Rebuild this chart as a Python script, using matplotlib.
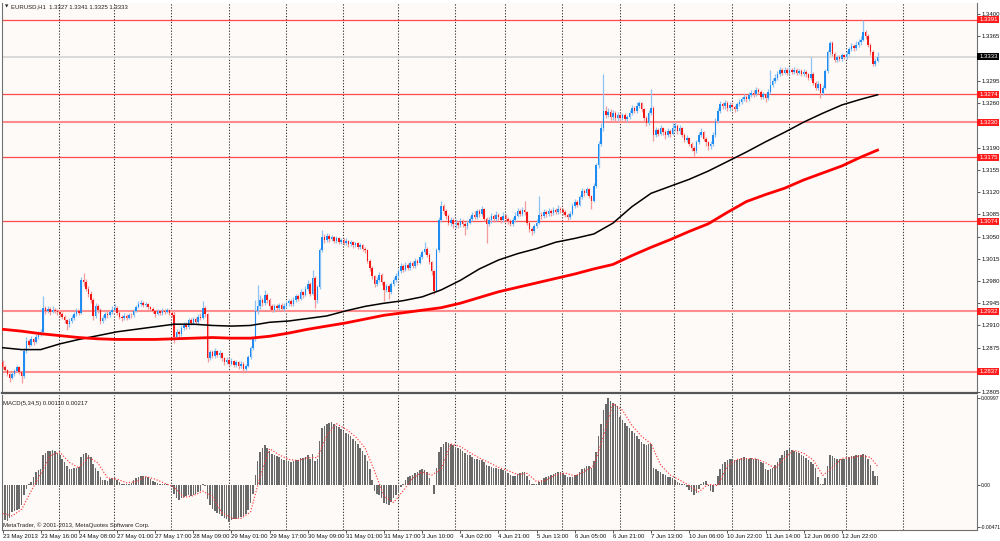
import numpy as np
import matplotlib.pyplot as plt
from matplotlib.transforms import blended_transform_factory
from matplotlib.patches import Rectangle

plt.rcParams['font.family'] = ['Liberation Sans', 'DejaVu Sans']

# EURUSD H1, prices in pips above 1.2800; open of each bar = previous close
first_open = 52
close_pips = [
    45, 40, 33, 27, 33, 38, 44, 36, 30, 70, 85, 80, 88, 84, 92, 96, 100, 137, 132, 136, 131, 135, 133, 131,
    128, 124, 118, 113, 117, 122, 128, 133, 130, 182, 178, 168, 160, 150, 125, 140, 134, 117, 122, 128, 126, 131, 135,
    138, 130, 124, 121, 125, 122, 127, 126, 133, 139, 144, 146, 142, 144, 139, 136, 132, 128, 133, 129, 133, 131, 134, 130,
    126, 92, 100, 96, 106, 112, 108, 118, 114, 120, 116, 124, 122, 137, 128, 58, 68, 62, 70, 63, 67, 58, 52, 56,
    50, 54, 48, 52, 46, 50, 42, 46, 60, 74, 88, 132, 140, 150, 145, 158, 150, 140, 134, 140, 137, 142, 136, 140,
    145, 148, 143, 150, 156, 152, 162, 158, 168, 176, 160, 185, 150, 170, 228, 250, 245, 251, 246, 249, 243, 247, 241, 244,
    240, 243, 238, 241, 236, 239, 234, 236, 231, 228, 212, 200, 188, 176, 182, 190, 178, 166, 172, 163, 175, 182, 188,
    195, 203, 198, 205, 201, 208, 204, 212, 209, 218, 225, 230, 221, 210, 195, 165, 228, 276, 298, 290, 282, 272, 276, 269,
    272, 268, 274, 270, 266, 272, 278, 284, 281, 290, 286, 293, 278, 270, 276, 282, 278, 284, 280, 276, 283,
    278, 274, 270, 276, 283, 290, 286, 292, 288, 272, 262, 258, 266, 272, 284, 282, 288, 285, 290, 287, 292, 289, 294, 291,
    288, 284, 280, 286, 298, 304, 300, 312, 322, 318, 324, 314, 306, 330, 362, 396, 420, 448, 442, 446, 438, 444, 436, 441,
    437, 441, 435, 438, 445, 452, 448, 456, 460, 450, 436, 428, 444, 452, 410, 418, 412, 420, 414, 410, 416, 412, 420,
    424, 416, 420, 410, 402, 405, 396, 390, 384, 398, 410, 414, 404, 398, 392, 396, 410, 432, 448, 458, 455, 460, 452, 457,
    454, 450, 458, 462, 466, 470, 466, 472, 476, 474, 480, 478, 470, 474, 468, 478, 488, 494, 500, 506, 512, 508, 512, 508,
    512, 509, 512, 508, 510, 506, 509, 505, 500, 506, 492, 484, 490, 476, 484, 510, 540, 554, 538, 528, 532, 530, 535, 533,
    538, 545, 550, 546, 552, 556, 560, 572, 566, 552, 540, 522, 527, 533,
]
high_pips = [
    55, 48, 42, 35, 36, 41, 47, 46, 38, 74, 92, 88, 93, 91, 96, 101, 104, 156, 141, 140, 139, 140, 138, 136,
    134, 131, 127, 120, 121, 126, 131, 137, 136, 187, 192, 183, 172, 164, 153, 145, 144, 137, 126, 131, 132, 135, 140,
    143, 140, 132, 127, 129, 128, 130, 130, 136, 142, 148, 150, 149, 147, 146, 141, 139, 134, 136, 135, 138, 136, 138, 136,
    133, 134, 104, 103, 110, 116, 115, 121, 122, 124, 123, 128, 129, 148, 140, 130, 72, 71, 74, 72, 71, 69, 61, 60,
    59, 58, 56, 56, 54, 54, 52, 50, 63, 78, 92, 150, 173, 158, 154, 166, 161, 153, 143, 144, 143, 146, 145, 145,
    149, 152, 151, 155, 160, 159, 167, 165, 172, 182, 178, 197, 188, 174, 232, 260, 254, 256, 254, 253, 251, 251, 249, 248,
    247, 248, 245, 245, 243, 242, 241, 240, 238, 234, 230, 214, 203, 190, 186, 194, 192, 180, 176, 175, 179, 186, 192,
    199, 208, 206, 210, 208, 212, 211, 216, 215, 222, 229, 241, 233, 224, 212, 197, 232, 281, 306, 301, 293, 285, 280, 279,
    277, 275, 279, 277, 273, 276, 283, 289, 290, 294, 293, 298, 295, 281, 280, 287, 285, 290, 287, 283, 288,
    286, 281, 277, 280, 288, 295, 293, 297, 306, 290, 275, 265, 270, 277, 313, 288, 293, 291, 295, 293, 297, 295, 299, 297,
    295, 291, 287, 290, 302, 309, 307, 316, 327, 325, 328, 326, 316, 334, 366, 400, 428, 506, 455, 452, 450, 449, 447, 446,
    444, 445, 444, 442, 449, 457, 455, 461, 464, 462, 452, 439, 449, 482, 455, 423, 421, 425, 423, 417, 420, 419, 428,
    431, 427, 425, 422, 413, 410, 407, 399, 393, 402, 414, 420, 416, 407, 401, 401, 414, 436, 452, 463, 462, 465, 463, 461,
    461, 457, 462, 466, 470, 475, 473, 477, 481, 480, 485, 484, 481, 478, 476, 482, 512, 499, 505, 510, 517, 515, 516, 515,
    516, 515, 516, 515, 514, 513, 513, 512, 508, 533, 509, 495, 494, 492, 488, 514, 544, 558, 557, 541, 536, 536, 539, 538,
    542, 549, 555, 553, 557, 561, 566, 590, 575, 569, 555, 543, 531, 541,
]
low_pips = [
    42, 37, 30, 21, 25, 31, 36, 33, 19, 28, 66, 76, 77, 80, 82, 88, 93, 98, 128, 129, 127, 129, 129, 127,
    124, 120, 114, 103, 108, 114, 119, 125, 126, 128, 172, 164, 155, 145, 118, 122, 130, 113, 114, 119, 122, 123, 128,
    132, 127, 120, 117, 118, 119, 120, 122, 124, 131, 137, 141, 139, 139, 136, 132, 129, 124, 126, 126, 127, 128, 129, 127,
    123, 82, 88, 90, 94, 103, 104, 105, 110, 111, 112, 113, 118, 120, 124, 52, 55, 58, 59, 60, 59, 54, 48, 49,
    46, 47, 45, 44, 42, 43, 35, 39, 44, 57, 71, 86, 128, 136, 141, 142, 146, 136, 131, 131, 133, 134, 133, 133,
    137, 141, 140, 141, 147, 148, 150, 154, 156, 165, 156, 158, 138, 146, 168, 225, 240, 242, 242, 243, 239, 240, 238, 238,
    236, 237, 234, 235, 232, 233, 230, 231, 227, 224, 208, 196, 183, 171, 172, 179, 174, 148, 162, 152, 160, 172, 179,
    185, 192, 194, 195, 197, 198, 200, 201, 205, 206, 215, 222, 217, 206, 190, 160, 163, 225, 273, 285, 277, 268, 266, 264,
    264, 263, 265, 265, 252, 262, 269, 274, 277, 278, 281, 283, 274, 239, 266, 272, 273, 275, 276, 271, 273,
    274, 270, 266, 267, 273, 280, 282, 283, 284, 268, 257, 252, 255, 263, 270, 277, 279, 281, 282, 283, 284, 285, 286, 287,
    284, 280, 276, 277, 284, 295, 296, 298, 309, 314, 315, 310, 294, 304, 327, 358, 392, 416, 437, 438, 433, 434, 432, 432,
    432, 433, 431, 431, 435, 442, 444, 445, 452, 446, 431, 424, 426, 441, 400, 406, 408, 409, 410, 404, 406, 407, 409,
    416, 412, 412, 406, 398, 398, 392, 385, 376, 381, 395, 406, 400, 393, 386, 388, 393, 407, 429, 444, 450, 451, 448, 448,
    450, 446, 447, 455, 459, 463, 462, 463, 469, 470, 471, 474, 466, 466, 462, 465, 475, 485, 491, 497, 503, 504, 505, 504,
    505, 505, 506, 504, 505, 502, 503, 501, 496, 497, 488, 480, 480, 468, 472, 482, 507, 536, 534, 524, 524, 526, 527, 529,
    530, 535, 542, 542, 543, 549, 552, 557, 561, 548, 536, 518, 519, 525,
]

# moving averages read every 8 bars (pips above 1.2800)
ma_bars = list(range(0, 368, 8)) + [367]
ma_black = [75, 72, 72, 81, 88, 94, 100, 104, 108, 112, 112, 110, 109, 110, 115, 117, 121, 125, 133, 140,
            145, 149, 155, 166, 181, 199, 213, 223, 231, 241, 247, 254, 271, 297, 318, 329, 340, 353, 368,
            383, 399, 414, 430, 444, 457, 466, 473]
ma_red = [104, 101, 97, 94, 91, 89, 88, 88, 88, 89, 90, 91, 90, 90, 93, 98, 104, 109, 114, 120,
          126, 130, 134, 138, 145, 154, 163, 170, 177, 184, 191, 199, 206, 220, 233, 245, 258, 270, 288,
          305, 316, 326, 339, 350, 361, 375, 386]

# MACD(5,34,5) histogram, units of 1e-5
macd = [
    -330, -400, -410, -370, -300, -290, -280, -270, -230, -110, -40, 20, 40, 90, 150, 170, 190, 340, 370, 390, 395, 400, 385, 370,
    340, 300, 260, 220, 190, 190, 200, 200, 210, 320, 360, 365, 350, 320, 240, 200, 160, 90, 60, 60, 50, 70, 80,
    90, 60, 40, 20, 15, 10, 20, 30, 60, 80, 100, 110, 110, 100, 90, 70, 50, 40, 30, 20, 15, 10, 10, 5,
    -20, -100, -140, -170, -150, -130, -120, -110, -120, -110, -100, -80, -60, 20, -10, -160, -230, -270, -290, -310, -330, -350, -370, -380,
    -415, -400, -385, -380, -370, -360, -350, -330, -280, -200, -100, 120, 280, 380, 420, 460, 430, 390, 360, 340, 330, 320, 300, 290,
    280, 280, 270, 280, 290, 290, 310, 310, 320, 340, 300, 360, 280, 300, 500, 650, 680, 700, 710, 720, 700, 680, 660, 640,
    620, 600, 580, 560, 530, 500, 470, 430, 390, 350, 280, 180, 60, -60, -100, -110, -150, -200, -210, -230, -190, -150, -110,
    -60, -20, 20, 60, 90, 110, 120, 140, 150, 170, 180, 170, 150, 80, 0, -100, 200, 380, 440, 470, 490, 480, 470, 460,
    440, 430, 410, 390, 370, 350, 340, 320, 300, 300, 290, 290, 270, 230, 220, 210, 200, 200, 190, 180, 170,
    160, 140, 120, 110, 110, 130, 140, 150, 150, 110, 60, 20, 10, 10, 40, 60, 80, 100, 110, 120, 130, 140, 150, 150,
    140, 120, 100, 90, 100, 120, 120, 150, 190, 200, 220, 220, 200, 280, 380, 560, 700, 860, 930, 990, 960, 940, 920, 900,
    780, 740, 710, 680, 650, 620, 590, 560, 530, 490, 470, 460, 470, 470, 200, 180, 160, 150, 130, 120, 100, 90, 80,
    60, 40, 30, 20, 10, -20, -50, -80, -110, -90, -40, 20, 40, 50, -10, -60, -80, 20, 110, 190, 240, 270, 290, 300,
    300, 290, 290, 300, 310, 320, 300, 300, 310, 300, 300, 290, 270, 250, 180, 170, 190, 200, 230, 270, 310, 350, 390, 400,
    410, 400, 390, 380, 370, 350, 330, 310, 290, 270, 240, 200, 90, 10, 20, 80, 220, 340, 330, 310, 300, 300, 300, 300,
    310, 320, 330, 330, 340, 340, 350, 360, 350, 300, 230, 160, 110, 110,
]
sig_bars = list(range(0, 368, 4)) + [367]
signal = [-320, -348, -274, -64, 128, 337, 378, 262, 198, 321,
          254, 84, 70, 29, 40, 100, 70, 23, -19, -138,
          -118, -66, -130, -310, -377, -377, -304, 96, 416, 348,
          294, 282, 314, 316, 566, 702, 640, 554, 428, 162,
          -124, -196, -64, 80, 152, 116, 184, 470, 442, 372,
          310, 260, 204, 168, 122, 136, 42, 58, 120, 140,
          106, 156, 224, 556, 928, 856, 680, 558, 472, 232,
          118, 60, -2, -74, 12, -4, 220, 294, 304, 302,
          258, 194, 310, 398, 364, 288, 112, 198, 308, 312,
          338, 318, 217]

day_starts = [24, 47, 71, 95, 119, 143, 166, 190, 211, 235, 259, 282, 306, 330, 354, 378]
label_idx = list(range(0, 353, 16))
label_txt = ["23 May 2013", "23 May 16:00", "24 May 08:00", "27 May 01:00", "27 May 17:00", "28 May 09:00",
             "29 May 01:00", "29 May 17:00", "30 May 09:00", "31 May 01:00", "31 May 17:00", "3 Jun 10:00",
             "4 Jun 02:00", "4 Jun 21:00", "5 Jun 13:00", "6 Jun 05:00", "6 Jun 21:00", "7 Jun 13:00",
             "10 Jun 06:00", "10 Jun 22:00", "11 Jun 14:00", "12 Jun 06:00", "12 Jun 22:00"]
levels = [1.3391, 1.3274, 1.3230, 1.3175, 1.3074, 1.2932, 1.2837]
level_soft = [False, False, True, False, False, True, True]
bid = 1.3333
# scale labels that are not hidden under the price tags
price_ticks = [1.3400, 1.3365, 1.3295, 1.3260, 1.3190, 1.3155, 1.3120, 1.3085,
               1.3050, 1.3015, 1.2980, 1.2945, 1.2910, 1.2875, 1.2805]

def to_price(p):
    return 1.28 + np.asarray(p, dtype=float) / 10000.0

FS = 4.3
bg = '#fdfaf8'
xlim = (-0.235, 408.7)

fig = plt.figure(figsize=(10, 5.41), dpi=100)
fig.patch.set_facecolor('white')
ax = fig.add_axes([0.002, 0.27357, 0.975, 0.72088])
axm = fig.add_axes([0.002, 0.02033, 0.975, 0.24954])

for a in (ax, axm):
    a.set_facecolor(bg)
    a.set_xlim(*xlim)
    for s in a.spines.values():
        s.set_color('#707070')
        s.set_linewidth(0.8)
    a.spines['top'].set_visible(False)
    for d in day_starts:
        a.axvline(d - 0.2, color='#333333', lw=0.75, ls=(0, (1.2, 1.6)), zorder=1)
    a.yaxis.tick_right()
    a.tick_params(axis='y', labelsize=FS, length=2, width=0.5, pad=1, colors='#111111')
ax.spines['bottom'].set_color('#555555')
ax.spines['bottom'].set_linewidth(1.6)

# main chart
idx = np.arange(len(close_pips))
c = to_price(close_pips)
o = to_price([first_open] + close_pips[:-1])
h = to_price(high_pips)
l = to_price(low_pips)
up = c >= o
wick_col = np.where(up, '#8fc3f2', '#f49a9a')
body_col = np.where(up, '#1e8cf0', '#f21818')

ax.set_ylim(1.28037, 1.34175)
for lv, soft in zip(levels, level_soft):
    ax.axhline(lv, color='#ff8c8c' if soft else '#ff4a4a', lw=1.5 if soft else 0.9, zorder=2)
ax.axhline(bid, color='#d6d6d6', lw=1.3, zorder=2)

ax.vlines(idx, l, h, colors=wick_col, lw=0.9, zorder=3)
ax.bar(idx, np.maximum(np.abs(c - o), 0.00008), bottom=np.minimum(o, c), width=0.65,
       color=body_col, linewidth=0, zorder=4)
ax.plot(ma_bars, to_price(ma_black), color='black', lw=1.1, zorder=5)
ax.plot(ma_bars, to_price(ma_red), color='#ff0000', lw=2.0, zorder=5)

ax.set_xticks([])
ax.set_yticks(price_ticks)
ax.set_yticklabels(['%.4f' % p for p in price_ticks])

# price tags on the right axis
tr = blended_transform_factory(ax.transAxes, ax.transData)
tag_h = 7.0 / 6302
for lv, col in [(x, '#ff1c1c') for x in levels] + [(bid, '#000000')]:
    ax.add_patch(Rectangle((1.0, lv - tag_h / 2), 0.0226, tag_h, transform=tr, clip_on=False,
                           facecolor=col, edgecolor='none', zorder=10))
    ax.text(1.0025, lv, '%.4f' % lv, transform=tr, fontsize=FS, color='white',
            va='center', ha='left', zorder=11, clip_on=False)

# MACD panel
axm.set_ylim(-0.00509, 0.01028)
axm.bar(idx, np.asarray(macd) * 1e-5, width=0.65, color='#6a6a6a', linewidth=0, zorder=3)
axm.plot(sig_bars, np.asarray(signal) * 1e-5, color='#ff3a3a', lw=0.85, ls=(0, (1, 1.5)), zorder=4)
axm.set_yticks([0.00997, 0.0, -0.00471])
axm.set_yticklabels(['0.00997', '0.00', '-0.00471'])
axm.tick_params(axis='y', labelsize=3.6)
axm.set_xticks(label_idx)
axm.set_xticklabels(label_txt)
axm.tick_params(axis='x', labelsize=FS, length=2, width=0.5, pad=1, colors='#111111')
for t in axm.get_xticklabels():
    t.set_ha('left')

fig.text(0.0045, 1 - 6.5 / 541, '\u25bc', fontsize=3.2, color='#222222', va='center', ha='left',
         family=['DejaVu Sans'])
fig.text(0.011, 1 - 6.5 / 541, 'EURUSD,H1  1.3327 1.3341 1.3325 1.3333', fontsize=FS,
         color='#222222', va='center', ha='left')
fig.text(0.003, 1 - 403 / 541, 'MACD(5,34,5) 0.00110 0.00217', fontsize=FS,
         color='#222222', va='center', ha='left')
fig.text(0.003, 1 - 525.5 / 541, 'MetaTrader, \u00a9 2001-2013, MetaQuotes Software Corp.', fontsize=FS,
         color='#222222', va='center', ha='left')

fig.savefig('out.png', dpi=100, facecolor='white')
